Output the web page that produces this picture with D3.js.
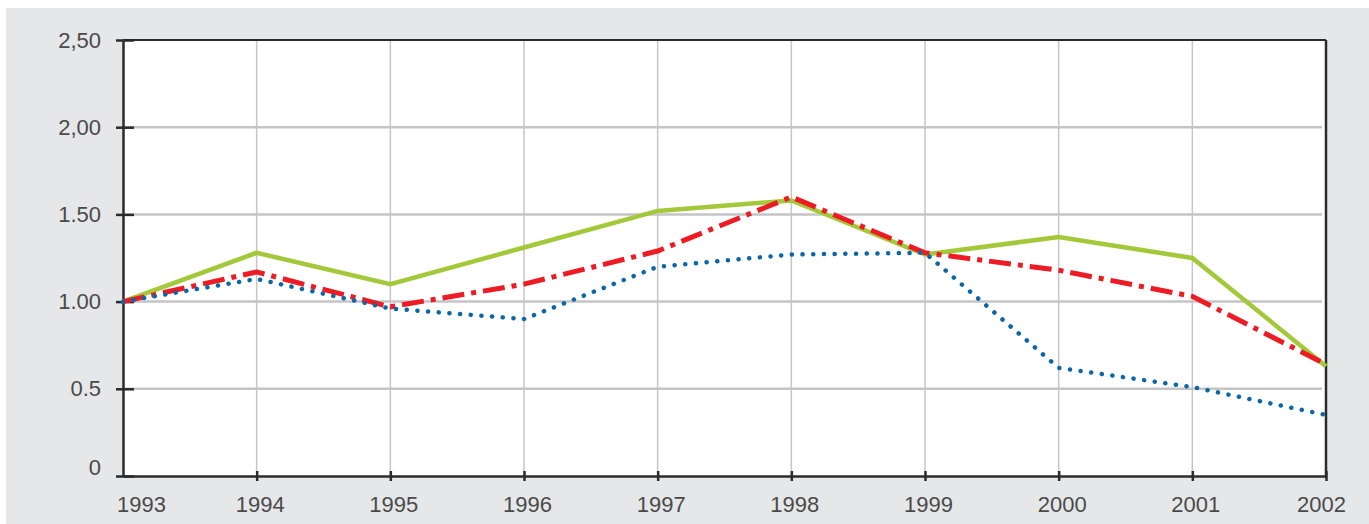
<!DOCTYPE html>
<html>
<head>
<meta charset="utf-8">
<script src="https://cdn.jsdelivr.net/npm/d3@7"></script>
<style>
  body { margin: 0; background: #fff; }
  text { font-family: "Liberation Sans", Helvetica, Arial, sans-serif; fill: #4a4a4a; }
</style>
</head>
<body>
<script>
const years = [1993, 1994, 1995, 1996, 1997, 1998, 1999, 2000, 2001, 2002];
const greenValues = [1.00, 1.28, 1.10, 1.31, 1.52, 1.58, 1.27, 1.37, 1.25, 0.63];
const redValues   = [1.00, 1.17, 0.97, 1.10, 1.29, 1.60, 1.28, 1.18, 1.03, 0.64];
const blueValues  = [1.00, 1.13, 0.96, 0.90, 1.20, 1.27, 1.28, 0.62, 0.51, 0.35];
const yTicks = [0, 0.5, 1, 1.5, 2, 2.5];
const yTickLabels = ["0", "0.5", "1.00", "1.50", "2,00", "2,50"];

const W = 1369, H = 524;
const margin = {left: 123, right: 43, top: 40, bottom: 48};
const width = W - margin.left - margin.right;
const height = H - margin.top - margin.bottom;

const root = d3.select("body").append("svg")
  .attr("width", W)
  .attr("height", H);

// gray panel
root.append("rect")
  .attr("x", 6).attr("y", 8)
  .attr("width", W - 6).attr("height", H - 8)
  .attr("fill", "#e6e7e8");

const svg = root.append("g")
  .attr("transform", `translate(${margin.left}, ${margin.top})`);

svg.append("rect")
  .attr("width", width).attr("height", height)
  .attr("fill", "#fff");

const xScale = d3.scaleLinear([years[0], years[years.length - 1]], [0, width]);
const yScale = d3.scaleLinear([0, 2.5], [height, 0]);

// vertical grid
svg.append("g")
  .selectAll("line")
  .data(years.slice(1, -1))
  .join("line")
  .attr("x1", d => xScale(d)).attr("x2", d => xScale(d))
  .attr("y1", 0).attr("y2", height)
  .attr("stroke", "#c6c6c8")
  .attr("stroke-width", 1.5);

// horizontal grid
svg.append("g")
  .selectAll("line")
  .data(yTicks.slice(1, -1))
  .join("line")
  .attr("x1", 0).attr("x2", width - 4)
  .attr("y1", d => yScale(d)).attr("y2", d => yScale(d))
  .attr("stroke", "#c4c4c6")
  .attr("stroke-width", 2.5);

// frame: top, right
svg.append("line")
  .attr("x1", 0).attr("x2", width)
  .attr("y1", yScale(2.5)).attr("y2", yScale(2.5))
  .attr("stroke", "#2b2b2b").attr("stroke-width", 2);
svg.append("line")
  .attr("x1", width).attr("x2", width)
  .attr("y1", 0).attr("y2", height)
  .attr("stroke", "#2b2b2b").attr("stroke-width", 2.5);

// y axis
const yAxis = d3.axisLeft(yScale)
  .tickValues(yTicks)
  .tickFormat((d, i) => yTickLabels[i])
  .tickSize(0);
const yG = svg.append("g").call(yAxis);
yG.select(".domain").attr("stroke", "#2b2b2b").attr("stroke-width", 2.5);
yG.selectAll(".tick text")
  .attr("x", -22)
  .attr("dy", (d) => d === 0 ? "-0.05em" : "0.32em")
  .style("font-size", "22px")
  .style("font-family", "'Liberation Sans', Helvetica, Arial, sans-serif")
  .attr("fill", "#4a4a4a");
yG.selectAll(".tick").append("line")
  .attr("x1", -7).attr("x2", 11)
  .attr("stroke", "#2b2b2b").attr("stroke-width", 2.5);

// x axis
const xAxis = d3.axisBottom(xScale)
  .tickValues(years)
  .tickFormat(d3.format("d"))
  .tickSize(0);
const xG = svg.append("g")
  .attr("transform", `translate(0,${height})`)
  .call(xAxis);
xG.select(".domain").attr("stroke", "#2b2b2b").attr("stroke-width", 2.5);
xG.selectAll(".tick text")
  .attr("y", 20)
  .attr("dx", (d, i) => i === 0 ? 18 : (i === years.length - 1 ? -5 : 3))
  .style("font-size", "22px")
  .style("font-family", "'Liberation Sans', Helvetica, Arial, sans-serif")
  .attr("fill", "#4a4a4a");
xG.selectAll(".tick").filter((d, i) => i > 0).append("line")
  .attr("y1", -5).attr("y2", 5)
  .attr("stroke", "#2b2b2b").attr("stroke-width", 2.5);

// series
let line = d3.line()
  .x((d, i) => xScale(years[i]))
  .y(d => yScale(d));

svg.append("path")
  .datum(greenValues)
  .attr("fill", "none")
  .attr("stroke", "#a3c93a")
  .attr("stroke-width", 4.5)
  .attr("stroke-linejoin", "miter")
  .attr("d", line);

svg.append("path")
  .datum(redValues)
  .attr("fill", "none")
  .attr("stroke", "#ed1c24")
  .attr("stroke-width", 5)
  .style("stroke-dasharray", "22, 7, 5, 7")
  .attr("d", line);

svg.append("path")
  .datum(blueValues)
  .attr("fill", "none")
  .attr("stroke", "#0a67a8")
  .attr("stroke-width", 4.5)
  .attr("stroke-linecap", "round")
  .style("stroke-dasharray", "0.1, 10.6")
  .attr("d", line);
</script>
</body>
</html>
